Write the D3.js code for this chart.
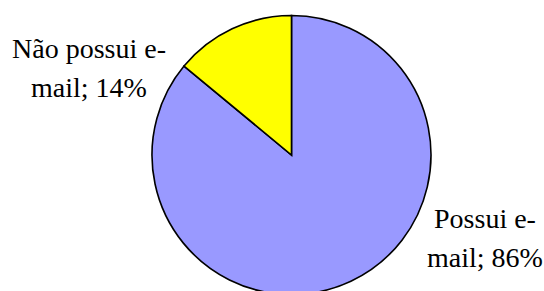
<!DOCTYPE html>
<html>
<head>
<meta charset="utf-8">
<script src="https://cdn.jsdelivr.net/npm/d3@7"></script>
<style>
html,body{margin:0;padding:0;background:#fff;}
svg{display:block;}
</style>
</head>
<body>
<svg id="chart" width="544" height="291"></svg>
<script>
const categories = ["Possui e-mail", "Não possui e-mail"];
const values = [86, 14];
const labelLines = [["Possui e-", "mail; 86%"], ["Não possui e-", "mail; 14%"]];
const colors = ["#9999FF", "#FFFF00"];

// layout
const W = 544, H = 291;
const cx = 291.5, cy = 155, R = 139.5;
const labelAnchors = [[485, 228], [89, 58]]; // first-line baselines
const lineGap = 39;

const svg = d3.select("#chart");
const g = svg.append("g").attr("transform", `translate(${cx},${cy})`);

const pie = d3.pie().sort(null).value(d => d)(values);
const arc = d3.arc().innerRadius(0).outerRadius(R);

g.selectAll("path").data(pie).enter().append("path")
  .attr("d", arc)
  .attr("fill", (d, i) => colors[i])
  .attr("stroke", "#000")
  .attr("stroke-width", 1.6)
  .attr("stroke-linejoin", "miter");

const labels = svg.append("g")
  .attr("font-family", "'Liberation Serif', 'Times New Roman', serif")
  .attr("font-size", 28)
  .attr("fill", "#000")
  .attr("text-anchor", "middle");

pie.forEach((d, i) => {
  const t = labels.append("text")
    .attr("x", labelAnchors[i][0])
    .attr("y", labelAnchors[i][1]);
  labelLines[i].forEach((ln, j) => {
    t.append("tspan").attr("x", labelAnchors[i][0]).attr("dy", j === 0 ? 0 : lineGap).text(ln);
  });
});
</script>
</body>
</html>
